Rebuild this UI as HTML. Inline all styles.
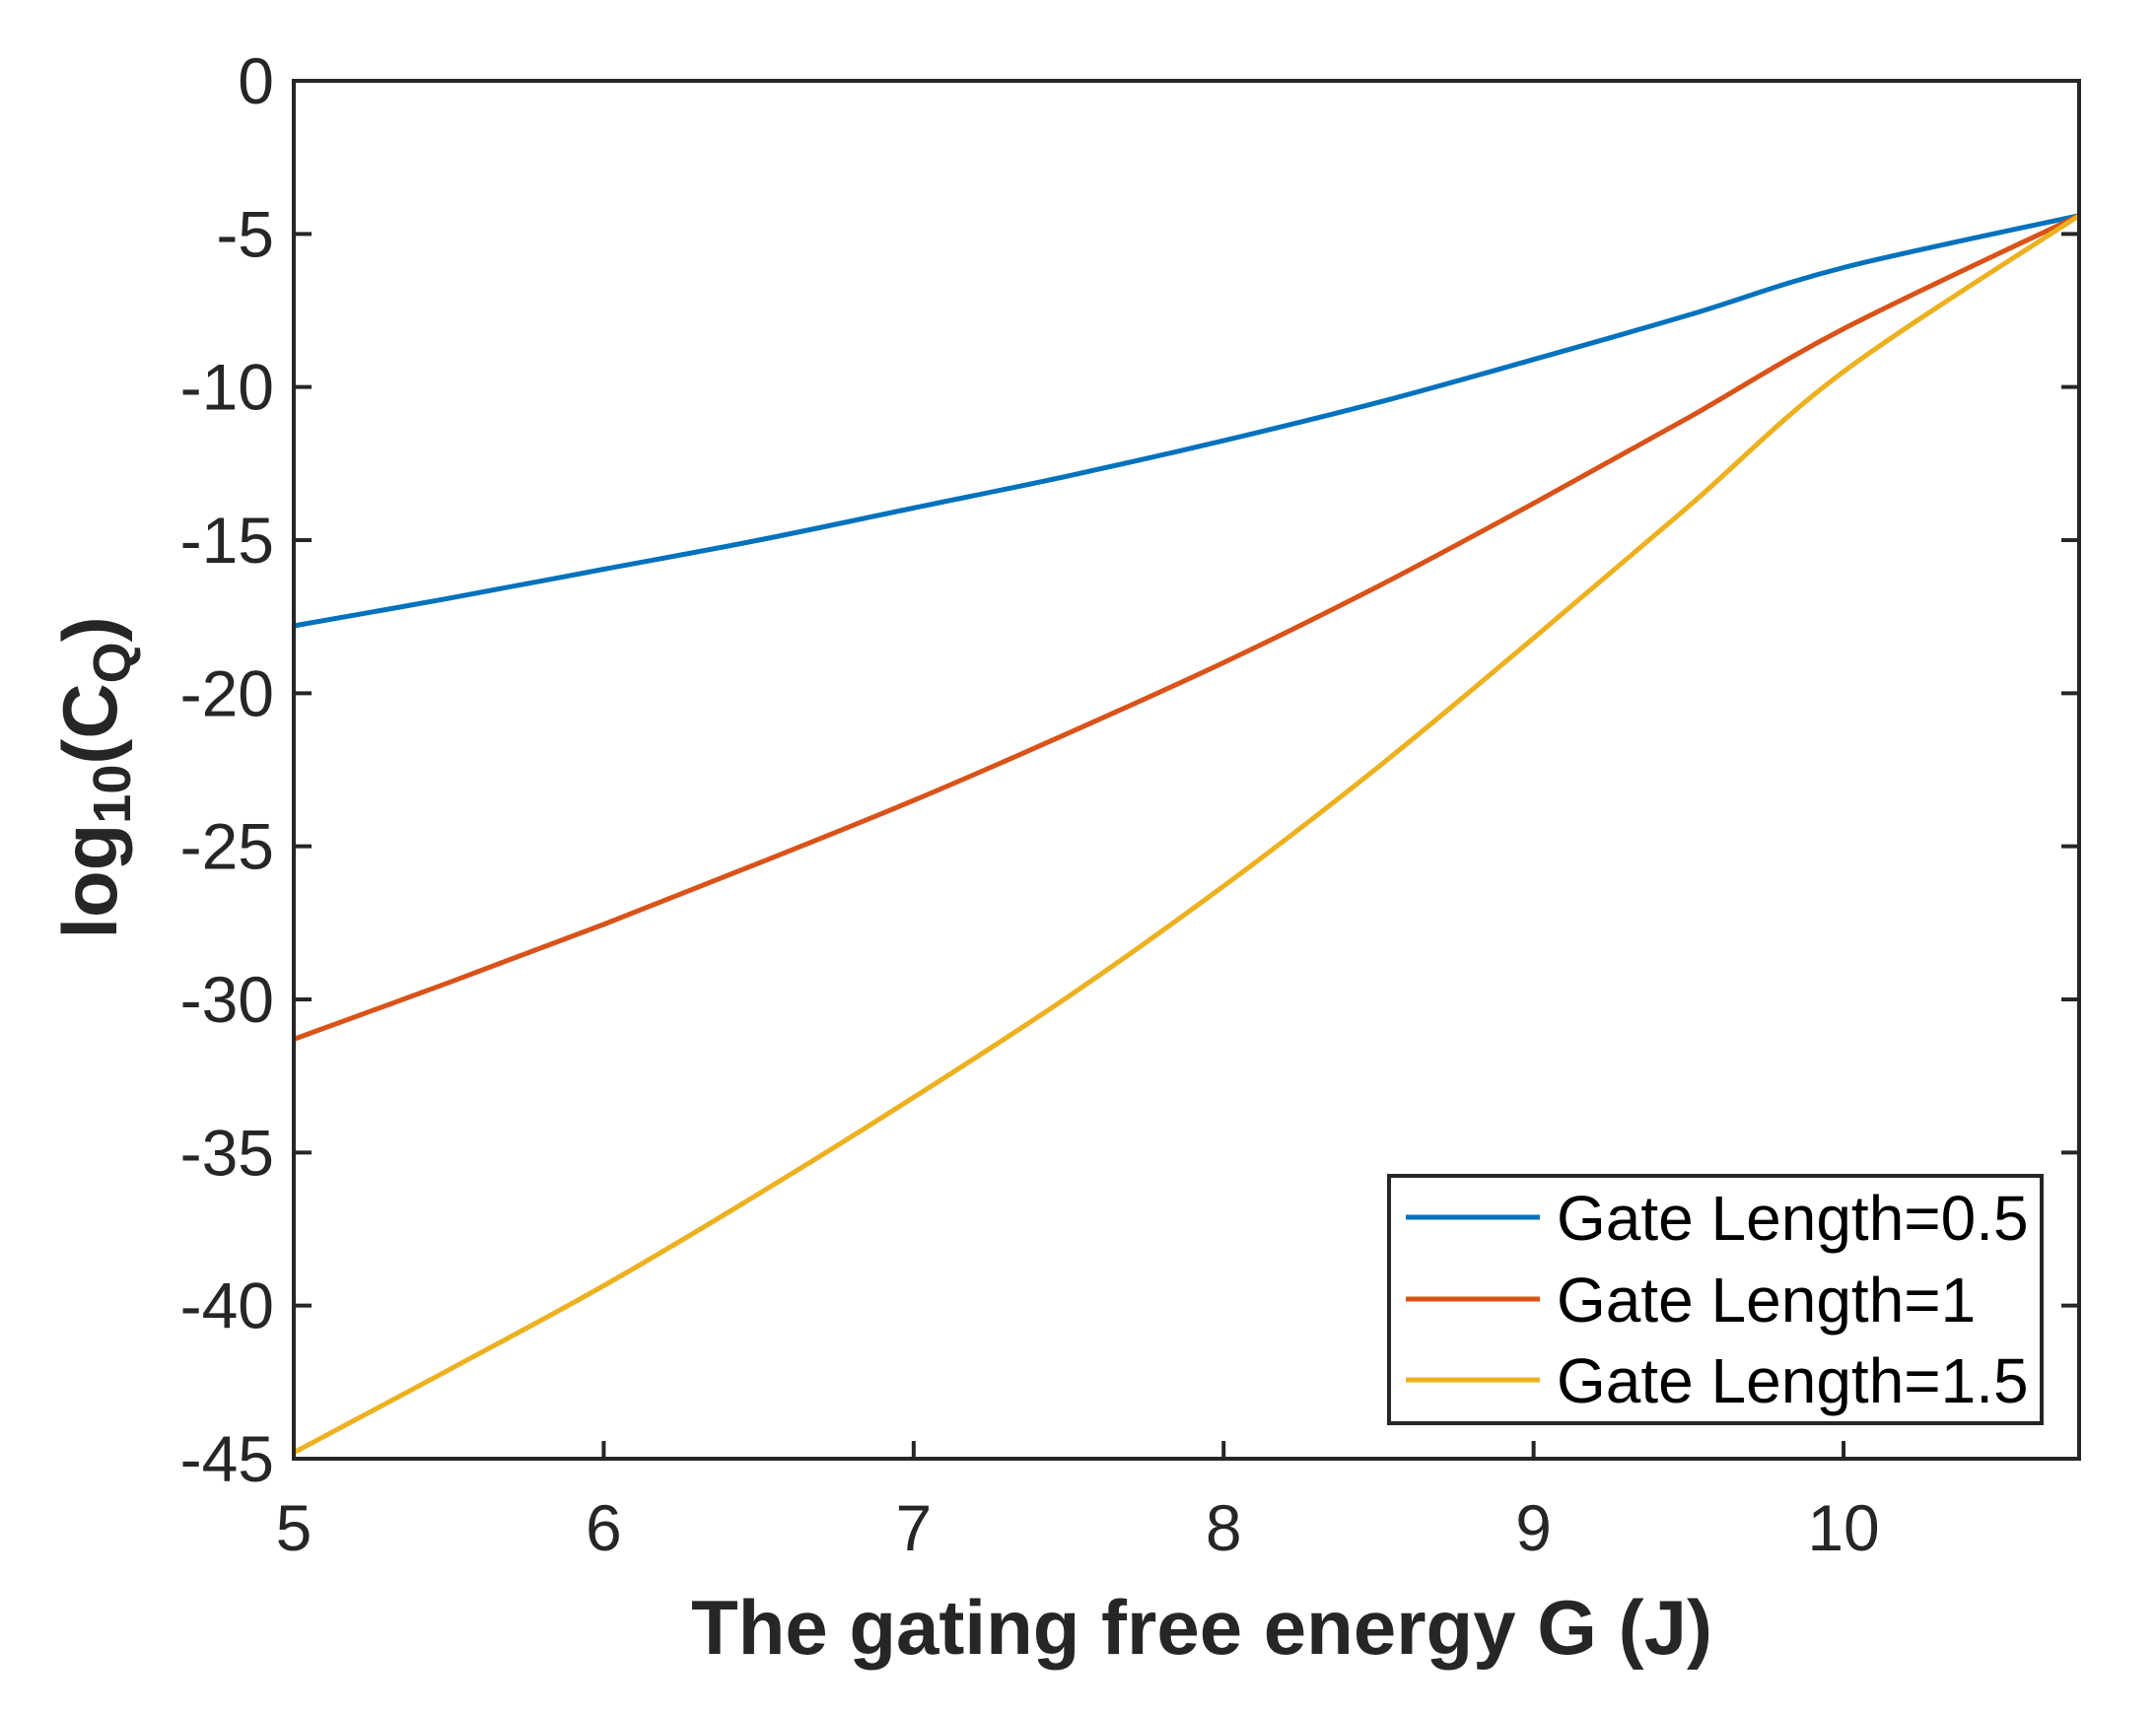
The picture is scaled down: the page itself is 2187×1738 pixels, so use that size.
<!DOCTYPE html>
<html><head><meta charset="utf-8"><style>
html,body{margin:0;padding:0;background:#fff;}
svg{display:block;font-family:"Liberation Sans",Arial,sans-serif;}
</style></head><body>
<svg id="chart" width="2187" height="1738" viewBox="0 0 2187 1738" xmlns="http://www.w3.org/2000/svg">
<g id="plot"></g>
<g id="axes"></g>
<g id="legend"></g>
</svg>
<script>
const xValues = [5, 5.5, 6, 6.5, 7, 7.5, 8, 8.5, 9, 9.5, 10, 10.76];
const blueValues = [-17.8, -16.9, -15.95, -15.0, -13.95, -12.9, -11.75, -10.5, -9.1, -7.65, -6.1, -4.4];
const redValues = [-31.3, -29.45, -27.55, -25.55, -23.5, -21.3, -19.0, -16.5, -13.8, -11.0, -8.1, -4.4];
const yellowValues = [-44.8, -42.1, -39.35, -36.35, -33.2, -29.9, -26.3, -22.4, -18.2, -13.9, -9.5, -4.4];
const seriesNames = ["Gate Length=0.5", "Gate Length=1", "Gate Length=1.5"];
const xTicks = [5, 6, 7, 8, 9, 10];
const yTicks = [0, -5, -10, -15, -20, -25, -30, -35, -40, -45];

const L = 298, R = 2109, T = 82, B = 1480;
const xMin = 5, xMax = 10.76, yMin = -45, yMax = 0;
const sx = v => L + (v - xMin) / (xMax - xMin) * (R - L);
const sy = v => T + (yMax - v) / (yMax - yMin) * (B - T);
const NS = "http://www.w3.org/2000/svg";
function mk(tag, parent, attrs) {
  const e = document.createElementNS(NS, tag);
  for (const k in attrs) e.setAttribute(k, attrs[k]);
  parent.appendChild(e);
  return e;
}
function pathFor(xs, ys) {
  const p = xs.map((x, i) => [sx(x), sy(ys[i])]);
  let d = "M" + p[0][0] + "," + p[0][1];
  for (let i = 0; i < p.length - 1; i++) {
    const p0 = p[Math.max(0, i - 1)], p1 = p[i], p2 = p[i + 1], p3 = p[Math.min(p.length - 1, i + 2)];
    const c1x = p1[0] + (p2[0] - p0[0]) / 6, c1y = p1[1] + (p2[1] - p0[1]) / 6;
    const c2x = p2[0] - (p3[0] - p1[0]) / 6, c2y = p2[1] - (p3[1] - p1[1]) / 6;
    d += " C" + c1x + "," + c1y + " " + c2x + "," + c2y + " " + p2[0] + "," + p2[1];
  }
  return d;
}
const plot = document.getElementById("plot");
const axes = document.getElementById("axes");
const legend = document.getElementById("legend");
const colors = ["#0072BD", "#D95319", "#EDB120"];
const allSeries = [blueValues, redValues, yellowValues];
const lineNames = ["line-gate-length-0-5", "line-gate-length-1", "line-gate-length-1-5"];

const box = mk("rect", axes, {x: L, y: T, width: R - L, height: B - T, fill: "none", stroke: "#262626", "stroke-width": 4});



xTicks.forEach(v => {
  const x = sx(v);
  const t1 = mk("line", axes, {x1: x, y1: B, x2: x, y2: B - 18, stroke: "#262626", "stroke-width": 4});
  
  
  const lb = mk("text", axes, {x: x, y: 1573, "text-anchor": "middle", "font-size": 66, fill: "#262626"});
  lb.textContent = v;
  
  
});
yTicks.forEach(v => {
  const y = sy(v);
  const t1 = mk("line", axes, {x1: L, y1: y, x2: L + 18, y2: y, stroke: "#262626", "stroke-width": 4});
  
  
  const t2 = mk("line", axes, {x1: R, y1: y, x2: R - 18, y2: y, stroke: "#262626", "stroke-width": 4});
  
  
  const lb = mk("text", axes, {x: 278, y: y + 23, "text-anchor": "end", "font-size": 66, fill: "#262626"});
  lb.textContent = v;
  
  
});

const xt = mk("text", axes, {x: 1219, y: 1678, "text-anchor": "middle", "font-size": 78, "font-weight": "bold", fill: "#262626"});
xt.textContent = "The gating free energy G (J)";



const yt = mk("text", axes, {x: 0, y: 0, "text-anchor": "middle", "font-size": 78, "font-weight": "bold", fill: "#262626", transform: "translate(118,789) rotate(-90)"});
yt.innerHTML = 'log<tspan font-size="54" dy="14">10</tspan><tspan dy="-14">(C</tspan><tspan font-size="54" dy="14">Q</tspan><tspan dy="-14">)</tspan>';



allSeries.forEach((vals, i) => {
  const p = mk("path", plot, {d: pathFor(xValues, vals), fill: "none", stroke: colors[i], "stroke-width": 5, "stroke-linejoin": "round"});
  
  
});

const lb = mk("rect", legend, {x: 1409, y: 1193, width: 662, height: 251, fill: "#fff", stroke: "#262626", "stroke-width": 4});


const rows = [1235, 1318, 1400];
seriesNames.forEach((n, i) => {
  const ln = mk("line", legend, {x1: 1426, y1: rows[i], x2: 1562, y2: rows[i], stroke: colors[i], "stroke-width": 5});
  
  
  const t = mk("text", legend, {x: 1579, y: rows[i] + 23, "font-size": 64, fill: "#000"});
  t.textContent = n;
  
  
});
</script>
</body></html>
